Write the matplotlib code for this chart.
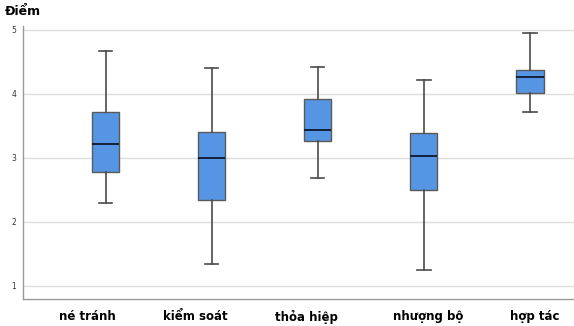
import matplotlib
matplotlib.use("Agg")
import matplotlib.pyplot as plt
import matplotlib.transforms as mtransforms

# nhóm và giá trị hộp
categories = ["né tránh", "kiểm soát", "thỏa hiệp", "nhượng bộ", "hợp tác"]
whisker_low = [2.29, 1.34, 2.68, 1.24, 3.72]
q1 = [2.78, 2.34, 3.26, 2.50, 4.01]
medians = [3.22, 3.00, 3.43, 3.03, 4.27]
q3 = [3.72, 3.40, 3.92, 3.39, 4.38]
whisker_high = [4.67, 4.40, 4.42, 4.22, 4.95]
y_ticks = [1, 2, 3, 4, 5]

stats = []
for i, name in enumerate(categories):
    stats.append({"label": name, "whislo": whisker_low[i], "q1": q1[i],
                  "med": medians[i], "q3": q3[i], "whishi": whisker_high[i],
                  "fliers": []})

fig = plt.figure(figsize=(5.74, 3.26), dpi=100)
ax = fig.add_axes([0.040, 0.083, 0.96, 0.837])

ax.bxp(stats, positions=range(len(categories)), widths=0.255, patch_artist=True,
       showfliers=False,
       boxprops=dict(facecolor="#5595e4", edgecolor="#5a5a5a", linewidth=1.0),
       medianprops=dict(color="#14203a", linewidth=1.4),
       whiskerprops=dict(color="#4a4a4a", linewidth=1.2),
       capprops=dict(color="#4a4a4a", linewidth=1.2),
       capwidths=0.125, zorder=3)

ax.set_xlim(-0.78, 4.415)
ax.set_ylim(0.79, 5.06)
ax.set_yticks(y_ticks)
ax.set_yticklabels([str(t) for t in y_ticks], fontsize=5.5, color="#333333")
ax.set_xticks(range(len(categories)))
ax.set_xticklabels(categories, fontsize=8.5, fontweight="bold")
ax.tick_params(axis="both", length=0)
ax.tick_params(axis="x", pad=8)
ax.tick_params(axis="y", pad=5)

# nhãn trục x lệch nhẹ so với tâm hộp như trong hình gốc
label_shift = [-18, -16, -11, 4, 5]
for lab, dx in zip(ax.get_xticklabels(), label_shift):
    lab.set_transform(lab.get_transform() + mtransforms.ScaledTranslation(dx / 100, 0, fig.dpi_scale_trans))

ax.grid(axis="y", color="#dddddd", linewidth=1.0, zorder=0)
ax.set_axisbelow(True)
for side in ["top", "right"]:
    ax.spines[side].set_visible(False)
for side in ["left", "bottom"]:
    ax.spines[side].set_color("#999999")
    ax.spines[side].set_linewidth(1.0)

fig.text(0.009, 0.965, "Điểm", fontsize=9, fontweight="bold", va="center", ha="left")

fig.savefig("out.png", dpi=100)
